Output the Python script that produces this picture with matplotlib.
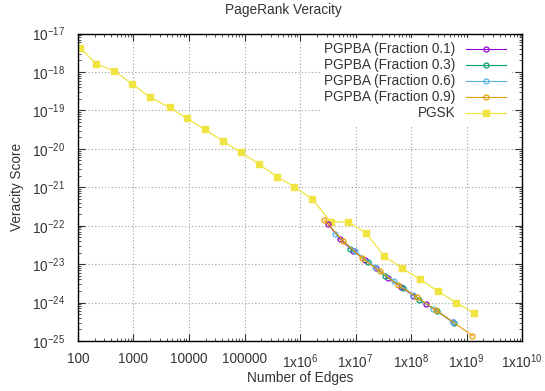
import numpy as np
import matplotlib
matplotlib.use("Agg")
import matplotlib.pyplot as plt
from matplotlib.ticker import FixedLocator, LogLocator, NullFormatter, FuncFormatter

plt.rcParams['font.family'] = ['Liberation Sans', 'DejaVu Sans']
plt.rcParams['mathtext.fontset'] = 'custom'
plt.rcParams['mathtext.rm'] = 'Liberation Sans'

# PGSK (Kronecker) series
pgsk_edges = [110, 209, 446, 930, 1990, 4500, 9100, 19500, 40500, 87000, 183000,
              380000, 790000, 1.66e6, 3.57e6, 7.4e6, 1.55e7, 3.3e7, 6.9e7, 1.45e8,
              3.0e8, 6.5e8, 1.38e9]
pgsk_score = [4.3e-18, 1.66e-18, 1.07e-18, 5.0e-19, 2.2e-19, 1.2e-19, 6.2e-20, 3.2e-20,
              1.6e-20, 8.1e-21, 4.0e-21, 1.9e-21, 1.03e-21, 4.9e-22, 1.26e-22, 1.26e-22,
              6.4e-23, 1.6e-23, 7.9e-24, 4.0e-24, 2.0e-24, 1.0e-24, 5.2e-25]

# PGPBA series
f01_edges = [3.15e6, 5.26e6, 8.9e6, 1.48e7, 2.34e7, 3.91e7, 6.52e7, 1.10e8, 1.84e8, 5.8e8]
f01_score = [1.14e-22, 4.45e-23, 2.25e-23, 1.31e-23, 7.98e-24, 4.38e-24, 2.55e-24,
             1.52e-24, 9.4e-25, 3.07e-25]
f03_edges = [7.96e6, 1.70e7, 3.40e7, 7.28e7, 1.41e8, 2.90e8, 5.96e8]
f03_score = [2.55e-23, 1.14e-23, 4.94e-24, 2.45e-24, 1.19e-24, 6.05e-25, 2.95e-25]
f06_edges = [4.28e6, 9.8e6, 2.24e7, 4.94e7, 1.07e8, 2.53e8, 5.64e8]
f06_score = [6.25e-23, 2.17e-23, 8.47e-24, 3.66e-24, 1.61e-24, 6.97e-25, 3.07e-25]
f09_edges = [2.75e6, 6.04e6, 1.29e7, 2.76e7, 5.91e7, 1.26e8, 2.82e8, 1.27e9]
f09_score = [1.39e-22, 3.95e-23, 1.45e-23, 6.53e-24, 2.82e-24, 1.40e-24, 6.3e-25, 1.38e-25]

fig = plt.figure(figsize=(5.45, 3.91), dpi=100)
ax = fig.add_axes([0.143, 0.128, 0.815, 0.786])

pba = [("PGPBA (Fraction 0.1)", f01_edges, f01_score, "#9400d3"),
       ("PGPBA (Fraction 0.3)", f03_edges, f03_score, "#009e73"),
       ("PGPBA (Fraction 0.6)", f06_edges, f06_score, "#56b4e9"),
       ("PGPBA (Fraction 0.9)", f09_edges, f09_score, "#e69f00")]
for lab, xs, ys, c in pba:
    ax.plot(xs, ys, color=c, lw=0.8, marker='o', ms=3.6, mfc='none', mew=0.9, label=lab, zorder=3)
ax.plot(pgsk_edges, pgsk_score, color="#f0e442", lw=0.9, marker='s', ms=5,
        label="PGSK", zorder=2)

ax.set_xscale('log')
ax.set_yscale('log')
ax.set_xlim(100, 1e10)
ax.set_ylim(1e-25, 1e-17)

def xfmt(v, pos):
    e = int(round(np.log10(v)))
    if e <= 5:
        return str(int(round(v)))
    return r'1x10$^{%d}$' % e

ax.xaxis.set_major_locator(FixedLocator([10.0**k for k in range(2, 11)]))
ax.xaxis.set_major_formatter(FuncFormatter(xfmt))
ax.xaxis.set_minor_locator(LogLocator(base=10, subs=np.arange(2, 10), numticks=20))
ax.xaxis.set_minor_formatter(NullFormatter())
ax.yaxis.set_major_locator(FixedLocator([10.0**k for k in range(-25, -16)]))
ax.yaxis.set_major_formatter(FuncFormatter(lambda v, p: r'10$^{%d}$' % int(round(np.log10(v)))))
ax.yaxis.set_minor_locator(LogLocator(base=10, subs=np.arange(2, 10), numticks=20))
ax.yaxis.set_minor_formatter(NullFormatter())

ax.tick_params(which='both', direction='in', top=True, right=True, labelsize=9.8, colors='#333333')
ax.tick_params(which='major', length=5)
ax.tick_params(which='minor', length=2.5)
ax.tick_params(axis='x', which='major', pad=8)
ax.tick_params(axis='y', which='major', pad=9)
for s in ax.spines.values():
    s.set_color('black')
    s.set_linewidth(1)
ax.grid(True, which='major', color='#a0a0a0', ls=(0, (1, 2)), lw=0.8)

fig.text(283 / 545, 1 - 10 / 391, "PageRank Veracity", fontsize=9.8, color='#333333',
         ha='center', va='center')
fig.text(300 / 545, 1 - 378 / 391, "Number of Edges", fontsize=9.8, color='#333333',
         ha='center', va='center')
fig.text(17 / 545, 1 - 187 / 391, "Veracity Score", fontsize=9.8, color='#333333',
         ha='center', va='center', rotation=90)

leg = ax.legend(loc='upper right', bbox_to_anchor=(0.972, 0.985), markerfirst=False,
                fontsize=9.8, frameon=True, framealpha=1, edgecolor='none',
                facecolor='white', handlelength=2.9, labelspacing=0.15,
                borderpad=0.3, borderaxespad=0, handletextpad=0.8)
leg.get_frame().set_linewidth(0)
for t in leg.get_texts():
    t.set_color('#333333')

fig.savefig("out.png", dpi=100)
